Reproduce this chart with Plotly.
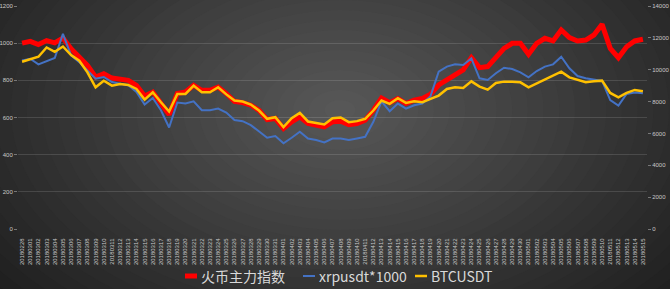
import plotly.graph_objects as go

dates = [
    "20180228", "20180301", "20180302", "20180303", "20180304", "20180305", "20180306", "20180307",
    "20180308", "20180309", "20180310", "20180311", "20180312", "20180313", "20180314", "20180315",
    "20180316", "20180317", "20180318", "20180319", "20180320", "20180321", "20180322", "20180323",
    "20180324", "20180325", "20180326", "20180327", "20180328", "20180329", "20180330", "20180331",
    "20180401", "20180402", "20180403", "20180404", "20180405", "20180406", "20180407", "20180408",
    "20180409", "20180410", "20180411", "20180412", "20180413", "20180414", "20180415", "20180416",
    "20180417", "20180418", "20180419", "20180420", "20180421", "20180422", "20180423", "20180424",
    "20180425", "20180426", "20180427", "20180428", "20180429", "20180430", "20180501", "20180502",
    "20180503", "20180504", "20180505", "20180506", "20180507", "20180508", "20180509", "20180510",
    "20180511", "20180512", "20180513", "20180514", "20180515",
]

huobi_index = [
    1000, 1010, 993, 1014, 1002, 1028, 970, 925, 880, 818, 836, 812, 805, 800, 773, 716,
    737, 675, 616, 729, 737, 773, 746, 746, 764, 729, 687, 680, 666, 639, 589, 595,
    541, 577, 604, 568, 562, 550, 577, 580, 562, 568, 586, 639, 705, 680, 702, 675,
    693, 702, 725, 775, 802, 832, 856, 922, 868, 874, 927, 972, 999, 999, 940, 999,
    1026, 1012, 1071, 1030, 1012, 1017, 1044, 1101, 972, 922, 981, 1012, 1021,
]

xrp_x1000 = [
    907, 916, 886, 902, 920, 1050, 934, 898, 854, 809, 818, 791, 782, 773, 737, 670,
    705, 639, 546, 680, 675, 687, 639, 639, 648, 627, 586, 580, 559, 527, 491, 500,
    461, 491, 523, 487, 479, 466, 487, 487, 479, 487, 496, 577, 687, 634, 675, 648,
    666, 675, 715, 847, 874, 886, 883, 918, 811, 802, 838, 868, 861, 843, 816, 850,
    874, 886, 927, 865, 823, 811, 802, 797, 694, 664, 727, 734, 730,
]

btc_usdt = [
    10500, 10667, 10813, 11396, 11125, 11458, 10917, 10563, 9834, 8896, 9313, 9000, 9104, 9042, 8792, 8125,
    8584, 7959, 7375, 8479, 8479, 9000, 8584, 8584, 8896, 8450, 8063, 8000, 7813, 7438, 6917, 7021,
    6397, 6959, 7292, 6751, 6668, 6563, 6959, 7000, 6709, 6772, 6917, 7438, 8063, 7855, 8209, 7917,
    8021, 7959, 8167, 8376, 8792, 8896, 8855, 9271, 8938, 8751, 9167, 9251, 9251, 9209, 8896, 9146,
    9417, 9626, 9876, 9521, 9376, 9209, 9271, 9313, 8542, 8271, 8542, 8730, 8646,
]

series_names = ["火币主力指数", "xrpusdt*1000", "BTCUSDT"]
series_colors = ["#ff0000", "#4472c4", "#ffc000"]
series_widths = [5, 2, 2.5]

W, H = 670, 289
ML, MR, MT, MB = 18, 23, 6, 60
pw = W - ML - MR
ph = H - MT - MB

fig = go.Figure()

fig.add_trace(go.Scatter(x=dates, y=huobi_index, name=series_names[0], mode="lines",
                         line=dict(color=series_colors[0], width=series_widths[0])))
fig.add_trace(go.Scatter(x=dates, y=xrp_x1000, name=series_names[1], mode="lines",
                         line=dict(color=series_colors[1], width=series_widths[1])))
fig.add_trace(go.Scatter(x=dates, y=btc_usdt, name=series_names[2], mode="lines", yaxis="y2",
                         line=dict(color=series_colors[2], width=series_widths[2])))


def px2fx(px):
    return (px - ML) / pw


def py2fy(py):
    return (H - MB - py) / ph


# radial background gradient (figure-level decoration)
shapes = []
cx, cy = 340, 110
n = 30
c0 = (0x1c, 0x1c, 0x1c)
c1 = (0x5a, 0x5a, 0x5a)
for k in range(n):
    t = 1 - k / n
    rx, ry = 470 * t, 300 * t
    col = tuple(int(c1[j] + (c0[j] - c1[j]) * t) for j in range(3))
    shapes.append(dict(type="circle", xref="paper", yref="paper", layer="below",
                       x0=px2fx(cx - rx), x1=px2fx(cx + rx),
                       y0=py2fy(cy + ry), y1=py2fy(cy - ry),
                       fillcolor="rgb(%d,%d,%d)" % col, line=dict(width=0)))

# legend drawn at the bottom (short line keys + labels)
annotations = []
key_x = [185, 303, 415]
leg_y = 276
for name, color, width, kx in zip(series_names, series_colors, series_widths, key_x):
    shapes.append(dict(type="line", xref="paper", yref="paper",
                       x0=px2fx(kx), x1=px2fx(kx + 12), y0=py2fy(leg_y), y1=py2fy(leg_y),
                       line=dict(color=color, width=width)))
    annotations.append(dict(text=name, xref="paper", yref="paper",
                            x=px2fx(kx + 14), y=py2fy(leg_y), xanchor="left", yanchor="middle",
                            showarrow=False,
                            font=dict(family="Noto Sans CJK SC", size=14, color="#d9d9d9")))

tickfont = dict(family="Liberation Sans, Arial", size=6, color="#c8c8c8")

fig.update_layout(
    width=W, height=H,
    margin=dict(l=ML, r=MR, t=MT, b=MB, pad=0),
    paper_bgcolor="#1c1c1c",
    plot_bgcolor="rgba(0,0,0,0)",
    shapes=shapes,
    annotations=annotations,
    showlegend=False,
    xaxis=dict(type="category", tickmode="array", tickvals=dates, ticktext=dates,
               tickangle=-90, tickfont=tickfont, showgrid=False, zeroline=False,
               showline=False, ticks="outside", ticklen=6, tickcolor="rgba(0,0,0,0)",
               automargin=False, range=[-0.5, len(dates) - 0.5]),
    yaxis=dict(range=[0, 1200], dtick=200, tickfont=tickfont, showgrid=True,
               gridcolor="rgba(255,255,255,0.13)", gridwidth=1, zeroline=False,
               showline=False, ticks="outside", ticklen=3, tickcolor="#777",
               tickformat="d", automargin=False),
    yaxis2=dict(range=[0, 14000], dtick=2000, overlaying="y", side="right",
                tickfont=tickfont, showgrid=False, zeroline=False, showline=False,
                ticks="outside", ticklen=3, tickcolor="#777", tickformat="d",
                automargin=False),
)

fig.write_html("out.html")
